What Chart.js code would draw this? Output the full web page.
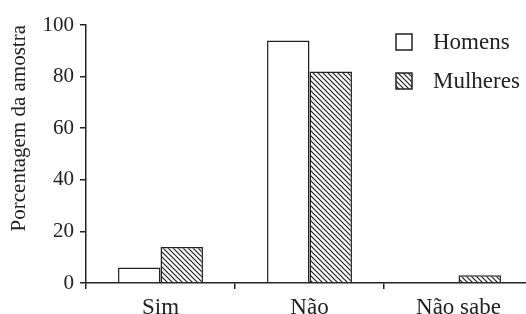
<!DOCTYPE html>
<html>
<head>
<meta charset="utf-8">
<script src="https://cdn.jsdelivr.net/npm/chart.js@4"></script>
<style>
html, body { margin: 0; padding: 0; background: #fff; overflow: hidden; }
#wrap { width: 540px; height: 314px; position: relative; }
</style>
</head>
<body>
<div id="wrap"><canvas id="myChart"></canvas></div>
<script>
const categories = ['Sim', 'Não', 'Não sabe']
const seriesNames = ['Homens', 'Mulheres']
const homens = [6, 94, 0]
const mulheres = [14, 82, 3]
const yTicks = [0, 20, 40, 60, 80, 100]

const ink = '#222'
const family = '"Liberation Serif", "DejaVu Serif", serif'

// diagonal hatch for the second series
function hatch() {
    const c = document.createElement('canvas')
    c.width = 5
    c.height = 5
    const g = c.getContext('2d')
    g.fillStyle = '#fff'
    g.fillRect(0, 0, 5, 5)
    g.strokeStyle = ink
    g.lineWidth = 1.2
    g.beginPath()
    g.moveTo(-1, -1); g.lineTo(6, 6)
    g.moveTo(-1, 4); g.lineTo(1, 6)
    g.moveTo(4, -1); g.lineTo(6, 1)
    g.stroke()
    return g.createPattern(c, 'repeat')
}

// legend boxes sit inside the plot, top right
const sideLegend = {
    id: 'sideLegend',
    afterDraw(chart) {
        const ctx = chart.ctx
        ctx.save()
        ctx.font = '23px ' + family
        ctx.textBaseline = 'middle'
        chart.data.datasets.forEach((ds, i) => {
            const y = 42 + i * 39
            ctx.fillStyle = ds.backgroundColor
            ctx.fillRect(396, y - 8, 16, 16)
            ctx.strokeStyle = ink
            ctx.lineWidth = 1.5
            ctx.strokeRect(396, y - 8, 16, 16)
            ctx.fillStyle = ink
            ctx.fillText(ds.label, 433, y + 1)
        })
        ctx.restore()
    }
}

const ctx = document.getElementById('myChart').getContext('2d')
const myChart = new Chart(ctx, {
    type: 'bar',
    data: {
        labels: categories,
        datasets: [{
            label: seriesNames[0],
            data: homens,
            backgroundColor: '#fff',
            borderColor: ink,
            borderWidth: 1.5
        }, {
            label: seriesNames[1],
            data: mulheres,
            backgroundColor: hatch(),
            borderColor: ink,
            borderWidth: 1.5
        }]
    },
    options: {
        responsive: true,
        maintainAspectRatio: false,
        animation: false,
        layout: { padding: { top: 25, right: 7, left: 0, bottom: 0 } },
        datasets: {
            bar: { categoryPercentage: 0.57, barPercentage: 1.0 }
        },
        plugins: {
            legend: { display: false },
            tooltip: { enabled: false }
        },
        scales: {
            x: {
                border: { color: ink, width: 1.5 },
                grid: { drawOnChartArea: false, tickLength: 6, color: ink, lineWidth: 1.5 },
                ticks: { font: { family: family, size: 23 }, color: ink, padding: 5 },
                afterFit(s) { s.height = 31 }
            },
            y: {
                min: 0,
                max: 100,
                afterBuildTicks(s) { s.ticks = yTicks.map(v => ({ value: v })) },
                border: { color: ink, width: 1.5 },
                grid: { drawOnChartArea: false, tickLength: 6, color: ink, lineWidth: 1.5 },
                ticks: { font: { family: family, size: 21 }, color: ink, padding: 6 },
                title: {
                    display: true,
                    align: 'end',
                    text: 'Porcentagem da amostra',
                    font: { family: family, size: 21 },
                    color: ink,
                    padding: { top: 7, bottom: 0 }
                },
                afterFit(s) { s.width = 86 }
            }
        }
    },
    plugins: [sideLegend]
})
</script>
</body>
</html>
